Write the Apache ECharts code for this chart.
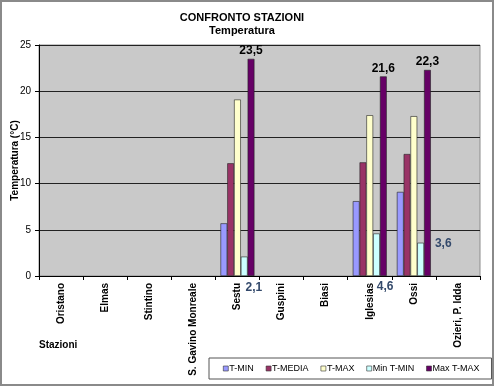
<!DOCTYPE html>
<html><head><meta charset="utf-8">
<script src="https://cdn.jsdelivr.net/npm/echarts@6/dist/echarts.min.js"></script>
<style>html,body{margin:0;padding:0;background:#fff}#c{width:495px;height:387px}</style>
</head><body><div id="c"></div>
<script>
var categories = ['Oristano','Elmas','Stintino','S. Gavino Monreale','Sestu','Guspini','Biasi','Iglesias','Ossi','Ozieri, P. Idda'];
var seriesNames = ['T-MIN','T-MEDIA','T-MAX','Min T-MIN','Max T-MAX'];
var tMin    = [null,null,null,null,5.7,null,null,8.1,9.1,null];
var tMedia  = [null,null,null,null,12.2,null,null,12.3,13.2,null];
var tMax    = [null,null,null,null,19.1,null,null,17.4,17.3,null];
var minTMin = [null,null,null,null,2.1,null,null,4.6,3.6,null];
var maxTMax = [null,null,null,null,23.5,null,null,21.6,22.3,null];
var yTicks = [0,5,10,15,20,25];

var colors = ['#9999FF','#993366','#FFFFCC','#CCFFFF','#660066'];
// label placement for Min T-MIN labels (style only, relative to bar)
var minLabelOffsets = {4:[13,31], 7:[12,53], 8:[26,1]};

function fmt(v){ return String(v).replace('.', ','); }

var allData = [tMin,tMedia,tMax,minTMin,maxTMax];
var series = allData.map(function(arr, i){
  return {
    name: seriesNames[i], type: 'bar',
    barWidth: '15.4%', barGap: '0%', barCategoryGap: '23%',
    itemStyle: {color: colors[i], borderColor: '#222', borderWidth: 0.6},
    data: arr.map(function(v, j){
      if (v === null) return null;
      var d = {value: v};
      if (i === 3) {
        d.label = {show: true, position: minLabelOffsets[j], align: 'center', verticalAlign: 'middle',
          formatter: function(p){ return fmt(p.value); }, color: '#33496b', fontSize: 12,
          fontWeight: 'bold', fontFamily: 'Liberation Sans, Arial'};
      }
      if (i === 4) {
        d.label = {show: true, position: 'top', distance: 2,
          formatter: function(p){ return fmt(p.value); }, color: '#000', fontSize: 12,
          fontWeight: 'bold', fontFamily: 'Liberation Sans, Arial'};
      }
      return d;
    })
  };
});

var chart = echarts.init(document.getElementById('c'), null, {renderer: 'canvas'});
chart.setOption({
  animation: false,
  backgroundColor: '#fff',
  textStyle: {fontFamily: 'Liberation Sans, Arial'},
  title: {
    text: 'CONFRONTO STAZIONI', subtext: 'Temperatura',
    left: 237, textAlign: 'center', top: 7, itemGap: 2,
    textStyle: {fontSize: 11, fontWeight: 'bold', color: '#000', fontFamily: 'Liberation Sans, Arial'},
    subtextStyle: {fontSize: 11, fontWeight: 'bold', color: '#000', fontFamily: 'Liberation Sans, Arial'}
  },
  graphic: [
    {type: 'rect', shape: {x: 1, y: 1, width: 492, height: 384},
      style: {fill: 'none', stroke: '#8a8a8a', lineWidth: 2}, z: 100, silent: true},
    {type: 'text', left: 39, top: 340,
      style: {text: 'Stazioni', font: 'bold 10px "Liberation Sans", Arial', fill: '#000'}}
  ],
  legend: {
    data: seriesNames, left: 209, top: 358, width: 300,
    padding: [6, 12, 6, 14],
    itemWidth: 5, itemHeight: 5, itemGap: 12,
    borderColor: '#555', borderWidth: 1,
    icon: 'rect',
    itemStyle: {borderColor: '#333', borderWidth: 0.6},
    textStyle: {fontSize: 9, color: '#000', padding: [0,0,0,-4], fontFamily: 'Liberation Sans, Arial'}
  },
  grid: {left: 39, right: 15, top: 45, bottom: 111, show: true,
    outerBoundsMode: 'none', containLabel: false,
    backgroundColor: '#C9C9C9', borderColor: '#8c8c8c', borderWidth: 1},
  xAxis: {
    type: 'category', data: categories,
    axisLine: {lineStyle: {color: '#000', width: 1}},
    axisTick: {show: true, alignWithLabel: false, length: 4, lineStyle: {color: '#000'}},
    axisLabel: {rotate: 90, fontSize: 10, fontWeight: 'bold', color: '#000', margin: 7, interval: 0}
  },
  yAxis: {
    type: 'value', min: 0, max: 25, interval: 5,
    name: 'Temperatura (°C)', nameLocation: 'middle', nameRotate: 90, nameGap: 19,
    nameMoveOverlap: false,
    nameTextStyle: {fontSize: 10, fontWeight: 'bold', color: '#000'},
    axisLine: {show: true, lineStyle: {color: '#000'}},
    axisTick: {show: true, length: 4, lineStyle: {color: '#000'}},
    axisLabel: {fontSize: 10, color: '#000', margin: 8,
      formatter: function(v){ return yTicks.indexOf(v) >= 0 ? String(v) : ''; }},
    splitLine: {show: true, lineStyle: {color: '#222', width: 1}}
  },
  series: series
});
</script></body></html>
